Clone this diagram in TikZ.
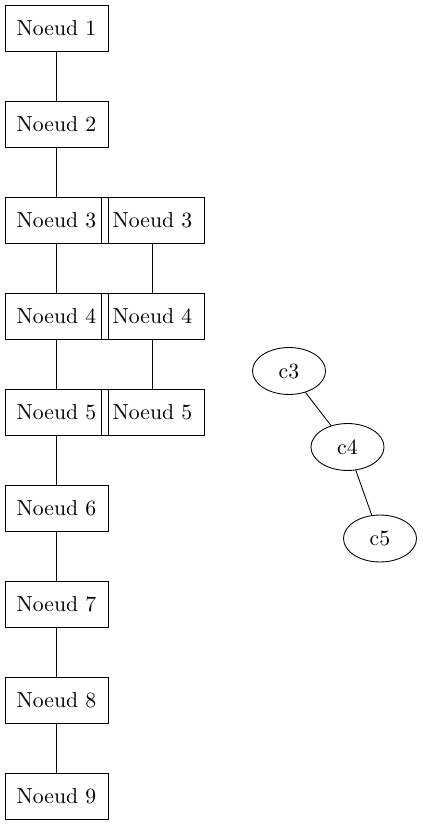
\documentclass[tikz,border=0pt]{standalone}
\usetikzlibrary{shapes.geometric}
\tikzset{
  boite/.style={draw,rectangle,minimum width=47.4pt,minimum height=21.2pt,inner sep=0pt},
  ovale/.style={draw,ellipse,minimum width=33.6pt,minimum height=21.6pt,inner sep=0pt},
}
\begin{document}
\begin{tikzpicture}[x=0.46pt,y=-0.46pt]
    \useasboundingbox (0,0) rectangle (422,827);
    % Colonne de gauche
    \foreach \i in {1,...,9}{
      \node[boite] (n\i) at (56.5,{28+96*(\i-1)}) {Noeud \i};}
    \foreach \i [count=\j from 2] in {1,...,8}{
      \draw (n\i) -- (n\j);}
    % Colonne de droite
    \foreach \i in {3,4,5}{
      \node[boite] (m\i) at (152.5,{28+96*(\i-1)}) {Noeud \i};}
    \draw (m3) -- (m4);
    \draw (m4) -- (m5);
    % Ellipses
    \node[ovale] (c3) at (289,371) {c3};
    \node[ovale] (c4) at (347.5,447) {c4};
    \node[ovale] (c5) at (380,538.5) {c5};
    \draw (c3) -- (c4);
    \draw (c4) -- (c5);
\end{tikzpicture}
\end{document}
